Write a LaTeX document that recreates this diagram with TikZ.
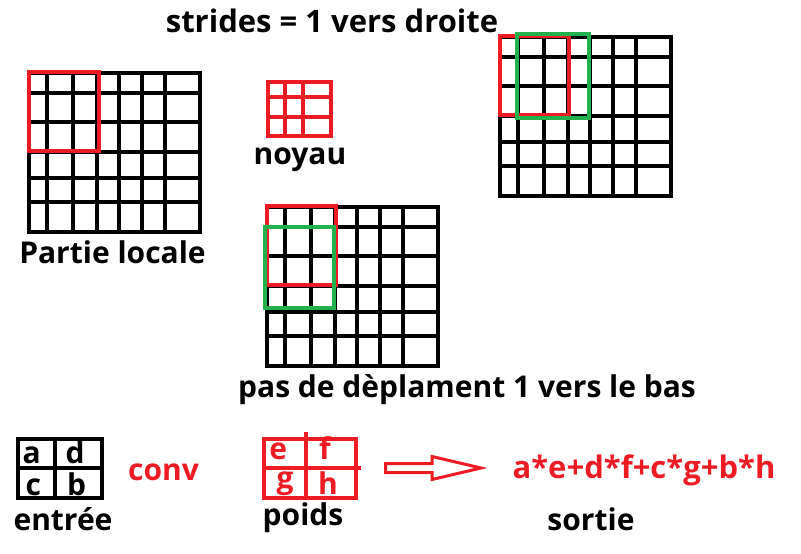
\documentclass[tikz,border=0pt]{standalone}
\usepackage{fontspec}
\setmainfont{Open Sans}
\definecolor{rouge}{RGB}{237,28,36}
\definecolor{vert}{RGB}{34,177,76}
\tikzset{
  trait/.style={line width=4pt,line cap=rect,line join=miter},
  texte/.style={anchor=base,inner sep=0pt,font=\bfseries\fontsize{30}{34}\selectfont},
}
% grande grille 7x6 (lignes tracees a la main, ecarts irreguliers)
\newcommand{\grandegrille}[2]{%
  \foreach \dx in {0,18,44,68,90,113,136,171}
    \draw[trait] (#1+\dx,#2) -- (#1+\dx,#2+159);
  \foreach \dy in {0,20,49,79,105,129,159}
    \draw[trait] (#1,#2+\dy) -- (#1+171,#2+\dy);
}
\begin{document}
\begin{tikzpicture}[x=1pt,y=-1pt]
    \useasboundingbox (0,0) rectangle (801,554);
    % partie locale
    \grandegrille{29.3}{72.7}
    \draw[trait,rouge] (29.3,72) rectangle (98.7,150.7);
    \node[texte] (locale) at (112.5,263) {Partie locale};
    % noyau
    \draw[trait,rouge] (268,82) rectangle (330.7,136.3);
    \foreach \x in {285,303.3}
      \draw[trait,rouge] (\x,82) -- (\x,136.3);
    \foreach \y in {96.7,116.7}
      \draw[trait,rouge] (268,\y) -- (330.7,\y);
    \node[texte] (noyau) at (300,164) {noyau};
    % pas vers la droite
    \grandegrille{500}{37.3}
    \draw[trait,rouge] (500,36) rectangle (568.7,115);
    \draw[trait,vert] (516.7,34) rectangle (588.7,118.3);
    \node[texte,font=\bfseries\fontsize{31}{35}\selectfont] (strides) at (332,32) {strides = 1 vers droite};
    % pas vers le bas
    \grandegrille{266.7}{207}
    \draw[trait,rouge] (266.7,206) rectangle (336,285);
    \draw[trait,vert] (265,226.7) rectangle (334,308.3);
    \node[texte] (bas) at (467,397) {pas de dèplament 1 vers le bas};
    % entree
    \draw[trait] (18,439.3) rectangle (102.3,498);
    \draw[trait] (55,439.3) -- (55,498);
    \draw[trait] (18,468.3) -- (102.3,468.3);
    \node[texte] (a) at (31.7,463) {a};
    \node[texte] (d) at (75,463) {d};
    \node[texte] (c) at (33.3,495) {c};
    \node[texte] (b) at (76.7,495) {b};
    \node[texte] (entree) at (63,530) {entrée};
    \node[texte,rouge] (conv) at (163.5,480) {conv};
    % poids
    \draw[trait,rouge] (263.7,438.7) rectangle (355.7,498);
    \draw[trait,rouge] (306,434) -- (306,498);
    \draw[trait,rouge] (263.7,468.3) -- (359,468.3);
    \node[texte,rouge] (e) at (278.3,459) {e};
    \node[texte,rouge] (f) at (325,459) {f};
    \node[texte,rouge] (g) at (285,488) {g};
    \node[texte,rouge] (h) at (328,494) {h};
    \node[texte] (poids) at (303,525) {poids};
    % fleche creuse
    \draw[rouge,line width=3pt,line join=miter] (385.5,463.5) -- (432,463.5) -- (432,456.5)
      -- (481,468) -- (432,479.5) -- (432,472.5) -- (385.5,472.5) -- cycle;
    \node[texte,rouge,font=\bfseries\fontsize{31}{35}\selectfont] (somme) at (644,478) {a*e+d*f+c*g+b*h};
    \node[texte] (sortie) at (591,530) {sortie};
\end{tikzpicture}
\end{document}
